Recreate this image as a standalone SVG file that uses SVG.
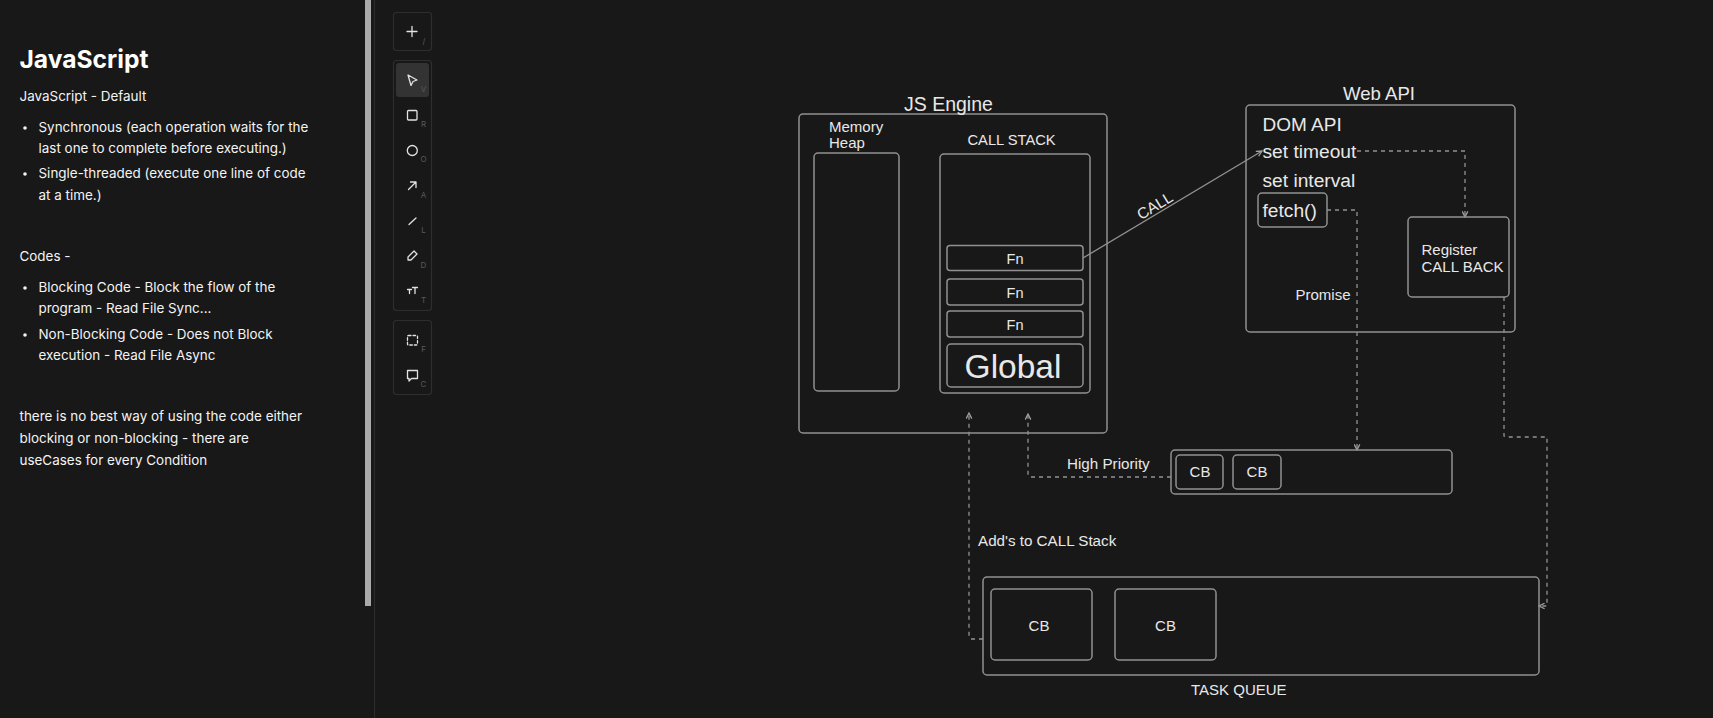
<svg xmlns="http://www.w3.org/2000/svg" width="1713" height="718" viewBox="0 0 1713 718">
<style>
.bx{fill:none;stroke:#909090;stroke-width:1.5}
.l{font-family:"Liberation Sans",Arial,sans-serif;fill:#e8e8e8;font-size:15px}
.m{text-anchor:middle}
.c{fill:none;stroke:#929292;stroke-width:1.3;stroke-dasharray:4 4}
.s{font-family:Inter,"Noto Sans",sans-serif;font-size:13.45px;fill:#f4f4f4}
.tb{fill:none;stroke:#2e2e2e;stroke-width:1.2}
.ic{fill:none;stroke:#e2e2e2;stroke-width:1.3;stroke-linecap:round;stroke-linejoin:round}
.k{font-family:Inter,"Noto Sans",sans-serif;font-size:8px;fill:#585858;text-anchor:middle}
</style>
<defs>
<marker id="a" viewBox="0 0 10 10" refX="9" refY="5" markerWidth="7" markerHeight="7" markerUnits="userSpaceOnUse" orient="auto"><path d="M1 1L9 5L1 9" fill="none" stroke="#a0a0a0" stroke-width="1.8"/></marker>
</defs>
<rect width="1713" height="718" fill="#181818"/>
<g id="sidebar">
<text x="19.500" y="68" font-family="Inter,'Noto Sans',sans-serif" font-size="24.600" font-weight="700" fill="#fff">JavaScript</text>
<text class="s" x="19.500" y="101">JavaScript - Default</text>
<circle cx="25" cy="128" r="1.8" fill="#f2f2f2"/>
<text class="s" x="38.500" y="132">Synchronous (each operation waits for the</text>
<text class="s" x="38.500" y="153">last one to complete before executing.)</text>
<circle cx="25" cy="174" r="1.8" fill="#f2f2f2"/>
<text class="s" x="38.500" y="178">Single-threaded (execute one line of code</text>
<text class="s" x="38.500" y="200">at a time.)</text>
<text class="s" x="19.500" y="261">Codes -</text>
<circle cx="25" cy="288" r="1.8" fill="#f2f2f2"/>
<text class="s" x="38.500" y="292">Blocking Code - Block the flow of the</text>
<text class="s" x="38.500" y="313">program - Read File Sync...</text>
<circle cx="25" cy="335" r="1.8" fill="#f2f2f2"/>
<text class="s" x="38.500" y="339">Non-Blocking Code - Does not Block</text>
<text class="s" x="38.500" y="360">execution - Read File Async</text>
<text class="s" x="19.500" y="421">there is no best way of using the code either</text>
<text class="s" x="19.500" y="443">blocking or non-blocking - there are</text>
<text class="s" x="19.500" y="465">useCases for every Condition</text>
<rect x="365" y="0" width="6" height="606" fill="#aaa"/>
<rect x="374" y="0" width="1" height="718" fill="#2c2c2c"/>
</g>
<g id="toolbar">
<rect class="tb" x="393.500" y="12.500" width="38" height="38" rx="3"/>
<rect class="tb" x="393.500" y="60.500" width="38" height="250" rx="3"/>
<rect class="tb" x="393.500" y="320.500" width="38" height="74" rx="3"/>
<rect x="396" y="63" width="33" height="34" rx="3" fill="#333"/>
<path class="ic" d="M412 26.500v10M407 31.500h10"/>
<path class="ic" d="M408 75l9 5l-4 1.500l-2 4z"/>
<rect class="ic" x="407.500" y="110.500" width="9.500" height="9.500" rx="1"/>
<circle class="ic" cx="412.300" cy="150.500" r="5"/>
<path class="ic" d="M408.500 189.500l7.500-7.500M410.500 182h5.500v5.500"/>
<path class="ic" d="M409 224.500l7-6.500"/>
<path class="ic" d="M408 260v-3l6-6l3 3l-6 6z"/>
<path class="ic" d="M407.500 289.500h4M409.500 289.500v4M412.500 287.500h5M415 287.500v6"/>
<rect class="ic" x="407.500" y="335.500" width="10" height="9.500" rx="1" stroke-dasharray="2.500 2"/>
<path class="ic" d="M407.500 370.500h10v8h-6l-2.500 2.500v-2.500h-1.500z"/>
<text class="k" x="424" y="44">/</text>
<text class="k" x="423.500" y="92">V</text>
<text class="k" x="423.500" y="127">R</text>
<text class="k" x="423.500" y="162">O</text>
<text class="k" x="423.500" y="198">A</text>
<text class="k" x="423.500" y="233">L</text>
<text class="k" x="423.500" y="268">D</text>
<text class="k" x="423.500" y="303">T</text>
<text class="k" x="423.500" y="352">F</text>
<text class="k" x="423.500" y="387">C</text>
</g>
<g id="connectors">
<path d="M1083 258L1262 151" fill="none" stroke="#929292" stroke-width="1.3" marker-end="url(#a)"/>
<path class="c" d="M1357 151H1465V217" marker-end="url(#a)"/>
<path class="c" d="M1327 210H1357V450" marker-end="url(#a)"/>
<path class="c" d="M1504 297V436L1506 437H1547V606H1539" marker-end="url(#a)"/>
<path class="c" d="M1171 477H1030L1028 475V414" marker-end="url(#a)"/>
<path class="c" d="M983 639H971L969 637V413" marker-end="url(#a)"/>
</g>
<g id="js-engine"><rect class="bx" x="799" y="114" width="308" height="319" rx="4"/><text class="l" x="904" y="110.500" style="font-size:19.500px">JS Engine</text></g>
<g id="memory-heap"><rect class="bx" x="814" y="153" width="85" height="238" rx="4"/><text class="l" x="829" y="131.500">Memory</text><text class="l" x="829" y="147.500">Heap</text></g>
<g id="call-stack"><rect class="bx" x="940" y="154" width="150" height="239" rx="4"/><text class="l" x="967.500" y="145" style="font-size:14.700px">CALL STACK</text></g>
<g id="fn-1"><rect class="bx" x="947" y="245.500" width="136" height="25" rx="3"/><text class="l m" x="1015" y="264" style="font-size:14.500px">Fn</text></g>
<g id="fn-2"><rect class="bx" x="947" y="279" width="136" height="26" rx="3"/><text class="l m" x="1015" y="298" style="font-size:14.500px">Fn</text></g>
<g id="fn-3"><rect class="bx" x="947" y="311" width="136" height="26" rx="3"/><text class="l m" x="1015" y="330" style="font-size:14.500px">Fn</text></g>
<g id="global"><rect class="bx" x="947" y="344" width="136" height="43" rx="4"/><text class="l m" x="1013" y="378" style="font-size:33.500px">Global</text></g>
<g id="web-api"><rect class="bx" x="1246" y="105" width="269" height="227" rx="4"/><text class="l" x="1343" y="100" style="font-size:18.600px">Web API</text>
<text class="l" x="1262.500" y="130.500" style="font-size:19px">DOM API</text>
<text class="l" x="1262.500" y="158" style="font-size:19.200px">set timeout</text>
<text class="l" x="1262.500" y="187" style="font-size:19.200px">set interval</text></g>
<g id="fetch"><rect class="bx" x="1258" y="193" width="69" height="34" rx="4"/><text class="l" x="1262.500" y="216.500" style="font-size:19.200px">fetch()</text></g>
<g id="promise-label"><text class="l" x="1295.500" y="300">Promise</text></g>
<g id="register"><rect class="bx" x="1408" y="217" width="101" height="80" rx="4"/><text class="l" x="1421.500" y="255">Register</text><text class="l" x="1421.500" y="272">CALL BACK</text></g>
<g id="call-label"><text class="l m" x="1155" y="211" transform="rotate(-31 1155 206)" style="font-size:15.500px">CALL</text></g>
<g id="high-priority"><rect class="bx" x="1171" y="450" width="281" height="44" rx="4"/><text class="l" x="1067" y="469" style="font-size:15.200px">High Priority</text></g>
<g id="cb-1"><rect class="bx" x="1176" y="455" width="47" height="34" rx="4"/><text class="l m" x="1200" y="477">CB</text></g>
<g id="cb-2"><rect class="bx" x="1233" y="455" width="48" height="34" rx="4"/><text class="l m" x="1257" y="477">CB</text></g>
<g id="adds-label"><text class="l" x="978" y="546" style="font-size:15.200px">Add's to CALL Stack</text></g>
<g id="task-queue"><rect class="bx" x="983" y="577" width="556" height="98" rx="4"/><text class="l" x="1191" y="695">TASK QUEUE</text></g>
<g id="cb-3"><rect class="bx" x="991" y="589" width="101" height="71" rx="4"/><text class="l m" x="1039" y="631">CB</text></g>
<g id="cb-4"><rect class="bx" x="1115" y="589" width="101" height="71" rx="4"/><text class="l m" x="1165.500" y="631">CB</text></g>
</svg>
